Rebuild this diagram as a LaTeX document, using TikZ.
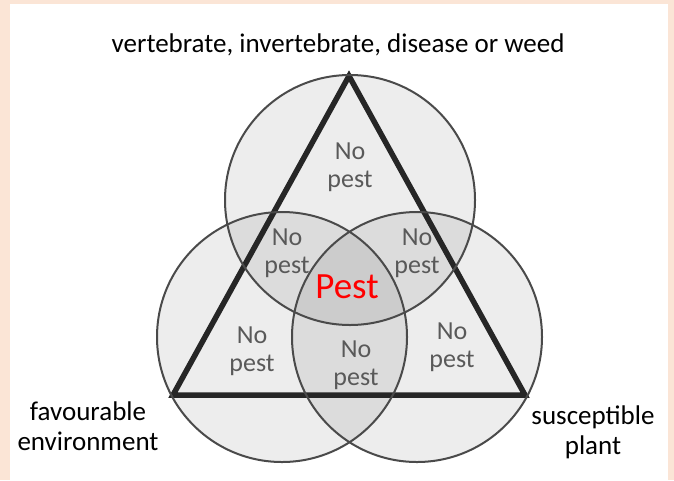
\documentclass[tikz,border=0pt]{standalone}
\usepackage{fontspec}
\setmainfont{Carlito}
\definecolor{peach}{HTML}{FBE5D6}
\definecolor{ringcol}{HTML}{4A4A4A}
\definecolor{tricol}{HTML}{262626}
\definecolor{npgray}{HTML}{595959}
\begin{document}
\begin{tikzpicture}[x=1pt,y=-1pt,
  ring/.style={draw=ringcol, line width=2pt},
  ringfill/.style={fill=black, fill opacity=0.07},
  tri/.style={draw=tricol, line width=5.5pt, line join=miter},
  nopest/.style={text=npgray, font=\fontsize{26}{28}\selectfont, align=center, inner sep=0pt},
  lbl/.style={text=black, font=\fontsize{27}{30}\selectfont, align=center, inner sep=0pt},
  pestlbl/.style={text=red, font=\fontsize{37}{40}\selectfont, inner sep=0pt}]
\useasboundingbox (0,0) rectangle (674,480);
\fill[peach] (0,0) rectangle (674,480);
\fill[white] (10,4) rectangle (668,480);
% circles
\coordinate (ct) at (350,200);
\coordinate (cl) at (282,337);
\coordinate (cr) at (417,337);
\fill[ringfill] (ct) circle (125);
\fill[ringfill] (cl) circle (125);
\fill[ringfill] (cr) circle (125);
% triangle
\coordinate (A) at (349,76);
\coordinate (B) at (173,395);
\coordinate (C) at (525,395);
\draw[tri] (A) -- (B) -- (C) -- cycle;
\draw[ring] (ct) circle (125);
\draw[ring] (cl) circle (125);
\draw[ring] (cr) circle (125);
% texts
\node[lbl] (title) at (338,45) {vertebrate, invertebrate, disease or weed};
\node[lbl] (env) at (88,426) {favourable\\environment};
\node[lbl] (plant) at (593,432) {susceptible\\plant};
\node[nopest] (n1) at (350,167) {No\\pest};
\node[nopest] (n2) at (287,253) {No\\pest};
\node[nopest] (n3) at (417,253) {No\\pest};
\node[nopest] (n4) at (252,351) {No\\pest};
\node[nopest] (n5) at (356,365) {No\\pest};
\node[nopest] (n6) at (452,347) {No\\pest};
\node[pestlbl] (pest) at (347,287) {Pest};
\end{tikzpicture}
\end{document}
